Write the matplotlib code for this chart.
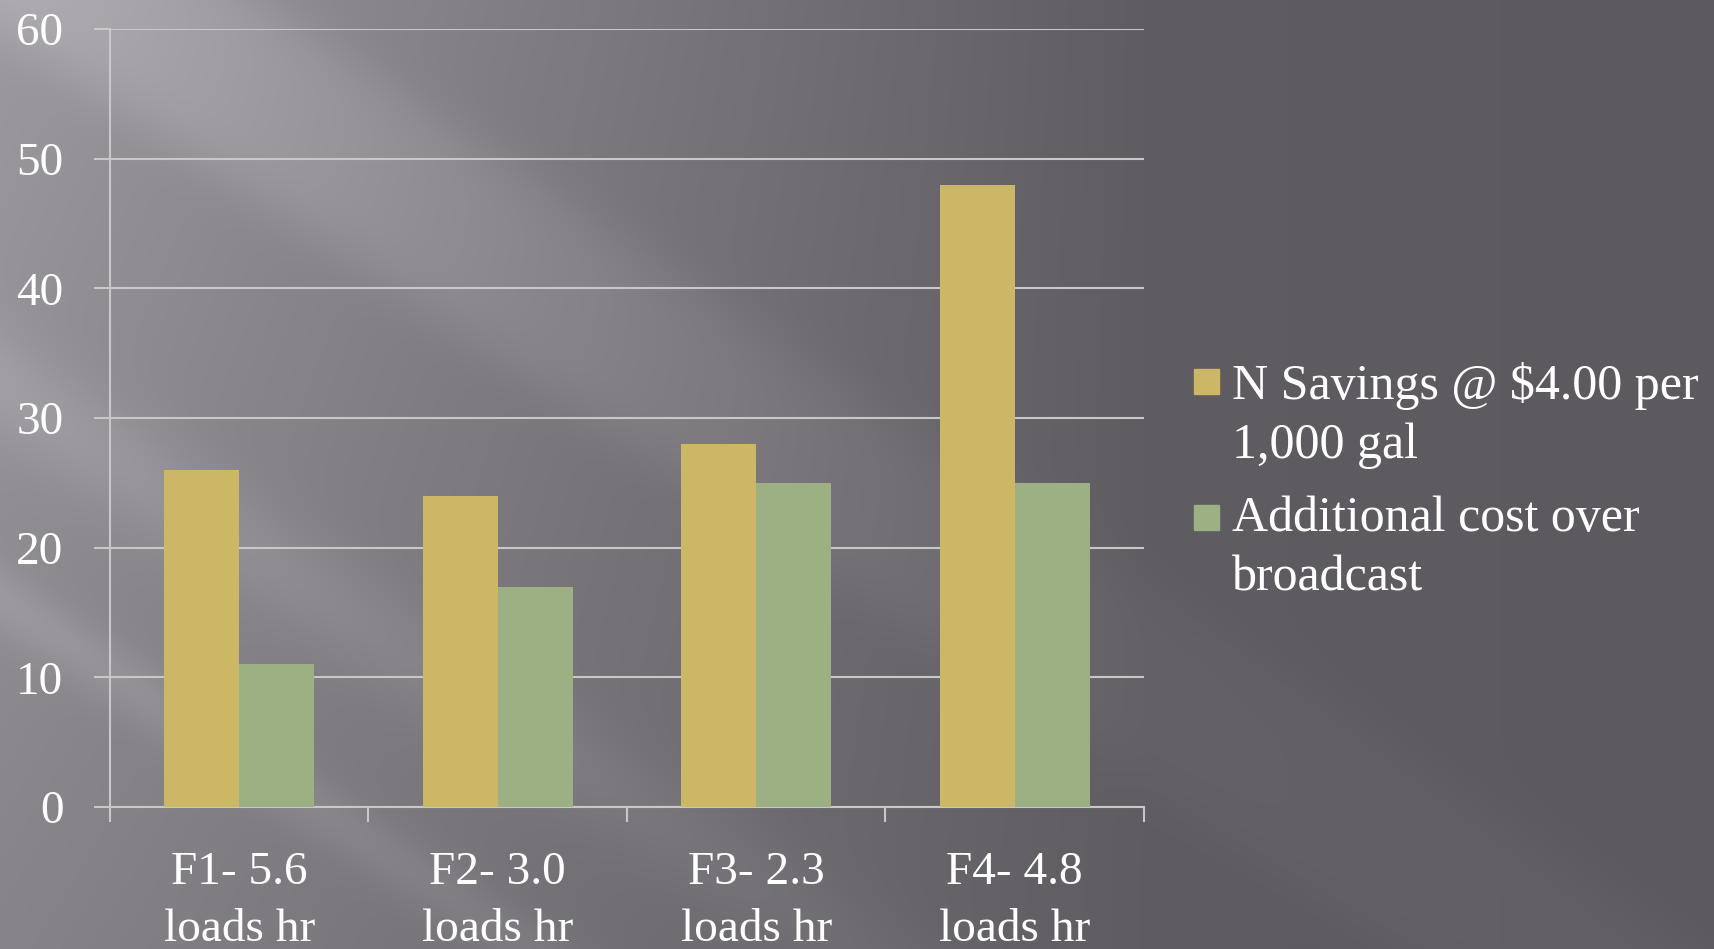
import numpy as np
import matplotlib
matplotlib.use("Agg")
import matplotlib.pyplot as plt
from matplotlib.patches import Rectangle

categories = ["F1- 5.6\nloads hr", "F2- 3.0\nloads hr", "F3- 2.3\nloads hr", "F4- 4.8\nloads hr"]
savings = [26, 24, 28, 48]
extra_cost = [11, 17, 25, 25]
series_names = ["N Savings @ $4.00 per\n1,000 gal", "Additional cost over\nbroadcast"]
yticks = [0, 10, 20, 30, 40, 50, 60]

YELLOW = "#cbb765"
GREEN = "#9cb084"
GRID = "#c8c8c8"
FS = 34
FS_LEG = 36

plt.rcParams["font.family"] = ["Liberation Serif", "DejaVu Serif"]

W, H = 1715, 949
fig = plt.figure(figsize=(W / 100, H / 100), dpi=100)

# background: grey gradient, lighter on the left, with diagonal light streaks
yy, xx = np.mgrid[0:H, 0:W].astype(float)
t = np.clip(xx / 1150, 0, 1)
base = 156 - 56 * t - 8 * xx / W - 22 * (yy / H) * (1 - t)
d = (660 * xx - 1000 * yy) / 1198
fade = 1 - 0.75 * t
base += 20 * np.exp(-((d - 60) / 90) ** 4) * fade
base += 14 * np.exp(-((d + 320) / 50) ** 2) * fade
base += 14 * np.exp(-((d + 500) / 30) ** 2) * fade
img = np.dstack([base, base - 3, base + 3]).clip(0, 255) / 255
bg = fig.add_axes([0, 0, 1, 1], zorder=-1)
bg.imshow(img, aspect="auto", interpolation="bilinear")
bg.axis("off")

ax = fig.add_axes([110 / W, 1 - 807 / H, (1144 - 110) / W, (807 - 29) / H])
ax.set_facecolor("none")
x = np.arange(len(categories))
bw = 0.29
ax.bar(x - bw / 2, savings, bw, color=YELLOW, zorder=3)
ax.bar(x + bw / 2, extra_cost, bw, color=GREEN, zorder=3)

ax.set_xlim(-0.5, 3.5)
ax.set_ylim(0, 60)
ax.set_yticks(yticks)
ax.yaxis.grid(True, color=GRID, lw=1.5)
ax.set_axisbelow(True)
for s in ("top", "right"):
    ax.spines[s].set_visible(False)
for s in ("left", "bottom"):
    ax.spines[s].set_color(GRID)
    ax.spines[s].set_linewidth(1.5)

ax.tick_params(axis="y", length=11.5, width=1.5, color=GRID, labelsize=FS,
               labelcolor="white", pad=22)
ax.set_xticks(x)
ax.set_xticklabels(categories, linespacing=1.45)
ax.set_xticks(np.arange(-0.5, 4, 1), minor=True)
ax.tick_params(axis="x", which="major", length=0, labelsize=FS, labelcolor="white", pad=32)
ax.tick_params(axis="x", which="minor", length=11, width=1.5, color=GRID)

# legend drawn by hand so the swatch sits on the first text line
for (top_sq, top_txt), col, name in zip([(369, 362), (505, 496)], [YELLOW, GREEN], series_names):
    fig.add_artist(Rectangle((1194 / W, 1 - (top_sq + 25) / H), 25 / W, 25 / H,
                             transform=fig.transFigure, color=col))
    fig.text(1232 / W, 1 - top_txt / H, name, fontsize=FS_LEG, color="white",
             va="top", ha="left", linespacing=1.35)

fig.savefig("out.png", dpi=100)
